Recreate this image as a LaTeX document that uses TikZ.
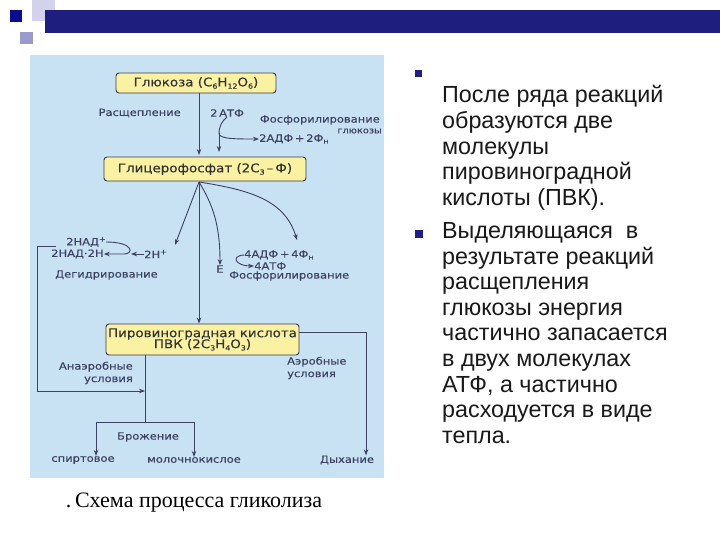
\documentclass[tikz,border=0pt]{standalone}
\usepackage{fontspec}
\setmainfont{Liberation Sans}
\newfontfamily\dfont[FakeBold=0.3,FakeStretch=1.15]{DejaVu Sans}
\newfontfamily\bfont[FakeBold=0.3,FakeStretch=1.12]{DejaVu Sans}
\newfontfamily\capfont{Liberation Serif}
\usetikzlibrary{arrows.meta}
\definecolor{bgblue}{HTML}{C8E1F3}
\definecolor{boxy}{HTML}{FBF1A2}
\definecolor{ink}{HTML}{3C4262}
\definecolor{navy}{HTML}{1E1E7E}
\definecolor{navyd}{HTML}{0C0C8C}
\definecolor{lav}{HTML}{9A9ACC}
\definecolor{lavp}{HTML}{D2D2EC}
\newcommand\sbx[1]{\raisebox{-0.35ex}{\fontsize{7}{7}\selectfont #1}}
\newcommand\spx[1]{\raisebox{0.7ex}{\fontsize{7}{7}\selectfont #1}}
\tikzset{
  box/.style={draw=ink!90!black, line width=0.9pt, fill=boxy, rounded corners=3pt,
    inner sep=0pt, font=\bfont\fontsize{12}{13}\selectfont, text=black!80, align=center},
  lbl/.style={inner sep=0pt, font=\dfont\fontsize{10}{12.5}\selectfont, text=ink},
  arr/.style={draw=ink, line width=0.9pt, -{Stealth[length=6pt,width=4.5pt]}},
  ln/.style={draw=ink, line width=0.9pt},
  rtext/.style={inner sep=0pt, anchor=base west, font=\fontsize{23.3}{25.6}\selectfont, text=black!90},
  bul/.style={fill=navy, minimum size=7.5pt, inner sep=0pt}
}
\begin{document}
\begin{tikzpicture}[x=1pt,y=-1pt]
\useasboundingbox (0,0) rectangle (720,540);
\fill[white] (0,0) rectangle (720,540);
% top decoration
\fill[lavp] (32,0) rectangle (55,21);
\fill[navy] (45,10) rectangle (720,33);
\fill[navyd] (10,10) rectangle (22,22);
\fill[lav] (20,32) rectangle (33,44);
% diagram background
\fill[bgblue] (30,55) rectangle (384,478);
% boxes
\node[box, minimum width=160pt, minimum height=20pt] (glu) at (196,83) {Глюкоза (C\sbx{6}H\sbx{12}O\sbx{6})};
\node[box, minimum width=202pt, minimum height=24pt] (gly) at (205,169) {Глицерофосфат (2C\sbx{3}\,–\,Ф)};
\node[box, minimum width=193pt, minimum height=31pt] (pvk) at (202.5,339.5) {Пировиноградная кислота\\[-2pt]ПВК (2C\sbx{3}H\sbx{4}O\sbx{3})};
% upper labels
\node[lbl, anchor=east] (rasch) at (181,113) {Расщепление};
\node[lbl, anchor=west] (atp) at (210,113) {2\,АТФ};
\node[lbl, anchor=east] (phos1) at (380,120) {Фосфорилирование};
\node[lbl, anchor=east, font=\dfont\fontsize{8.5}{10}\selectfont] (gluk) at (382,131) {глюкозы};
\node[lbl, anchor=west] (adp) at (259,139) {2АДФ\,+\,2Ф\sbx{н}};
% middle labels
\node[lbl, anchor=east] (nadp) at (106,242) {2НАД\spx{+}};
\node[lbl, anchor=west] (nadh) at (51,254) {2НАД·2Н};
\node[lbl, anchor=west] (hp) at (144,254) {2Н\spx{+}};
\node[lbl, anchor=west] (deg) at (55,275) {Дегидрирование};
\node[lbl] (e) at (220,269) {Е};
\node[lbl, anchor=west] (adp4) at (244,255) {4АДФ\,+\,4Ф\sbx{н}};
\node[lbl, anchor=west] (atp4) at (254,266) {4АТФ};
\node[lbl, anchor=west] (phos2) at (229,276) {Фосфорилирование};
% lower labels
\node[lbl, align=right, anchor=east] (anaer) at (133,373) {Анаэробные\\условия};
\node[lbl, align=left, anchor=west] (aer) at (287,368) {Аэробные\\условия};
\node[lbl] (brozh) at (148,437) {Брожение};
\node[lbl] (spirt) at (83,460) {спиртовое};
\node[lbl] (milk) at (194,460) {молочнокислое};
\node[lbl] (dyh) at (347,460) {Дыхание};
% coordinates
\coordinate (br) at (199,182);
\coordinate (lt) at (175,245);
\coordinate (rt) at (297,240);
\coordinate (lb) at (56,246);
\coordinate (jn) at (145,391);
\coordinate (fj) at (145,422);
\coordinate (fl) at (96,422);
\coordinate (fr) at (194,422);
\coordinate (dr) at (366,332);
% connectors upper
\draw[arr] (199,93) -- (199,155);
\draw[ln] (atp.south) .. controls (222,121) and (219,126) .. (219,134);
\draw[arr] (219,133) -- (219,152);
\draw[arr] (219,134) .. controls (221,139) and (235,139) .. (adp.west);
% connectors middle
\draw[arr] (br) -- (lt);
\draw[arr] (br) -- (pvk.north -| br);
\draw[arr] (br) .. controls (213,205) and (220,225) .. (e.north);
\draw[arr] (br) .. controls (250,190) and (285,200) .. (rt);
\draw[arr] (nadp.east) .. controls (134,242) and (134,254) .. (124,254) -- (nadh.east);
\draw[arr] (hp.west) -- (131,254);
\draw[arr] (adp4.west) .. controls (230,256) and (236,266) .. (atp4.west);
% connectors lower
\draw[arr] (lb) -- (37,246) |- (jn);
\draw[ln] (pvk.south -| jn) -- (fj);
\draw[ln] (fl) -- (fr);
\draw[arr] (fl) -- (spirt.north -| fl);
\draw[arr] (fr) -- (milk.north -| fr);
\draw[arr] (dr -| pvk.east) -- (dr) -- (dyh.north -| dr);
% caption
\node[inner sep=0pt, font=\capfont\fontsize{22}{24}\selectfont] (cap) at (194,503) {.\,Схема процесса гликолиза};
% right text
\node[bul] (b1) at (418.5,73.5) {};
\node[bul] (b2) at (419,234) {};
\foreach \t [count=\i from 0] in {После ряда реакций, образуются две, молекулы, пировиноградной, кислоты (ПВК).}
  \node[rtext] (pa\i) at (442,103+25.6*\i) {\t};
\foreach \t [count=\i from 0] in {Выделяющаяся\ \ в, результате реакций, расщепления, глюкозы энергия, частично запасается, в двух молекулах, {АТФ, а частично}, расходуется в виде, тепла.}
  \node[rtext] (pb\i) at (442,238.5+25.6*\i) {\t};
\end{tikzpicture}
\end{document}
